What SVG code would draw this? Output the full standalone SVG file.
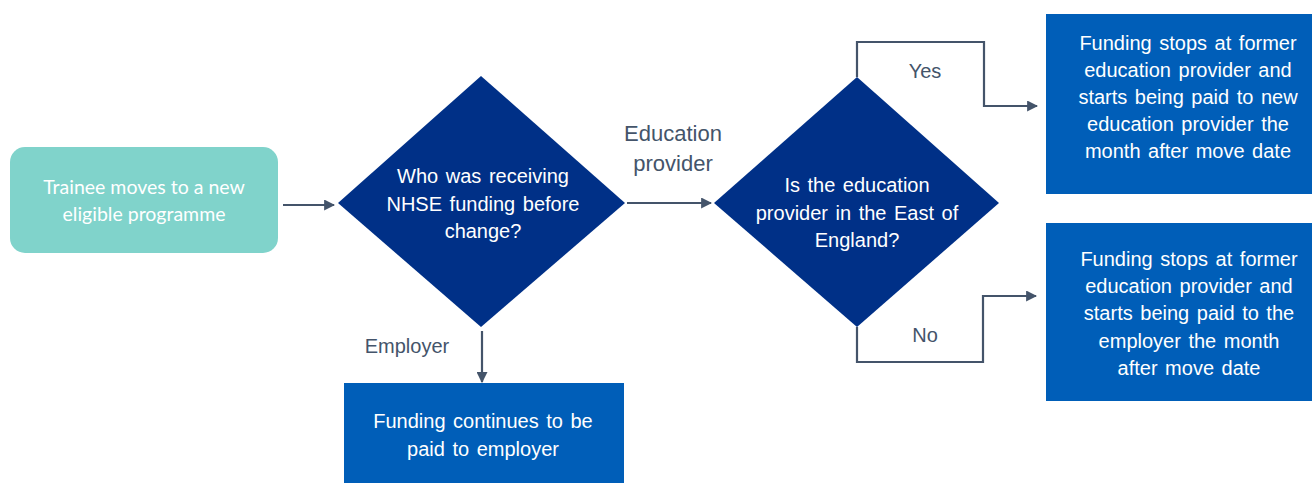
<svg xmlns="http://www.w3.org/2000/svg" width="1312" height="483" viewBox="0 0 1312 483">
<style>
.conn{fill:none;stroke:#44546a;stroke-width:2.2}
.lbl{font-family:"Liberation Sans",Arial,sans-serif;font-size:20px;fill:#44546a;text-anchor:middle}
.big{font-size:22px}
.wt{font-family:"Liberation Sans",Arial,sans-serif;font-size:20px;fill:#ffffff;text-anchor:middle;word-spacing:2px}
.dia{fill:#003087}
.box{fill:#005eb8}
.start{fill:#80d3cb}
.st{font-family:Lato,"Open Sans",sans-serif;font-size:19.5px;fill:#ffffff;text-anchor:middle}
</style>
<defs>
<marker id="ah" viewBox="0 0 10 10" refX="9" refY="5" markerWidth="5" markerHeight="5" orient="auto" markerUnits="strokeWidth">
<path d="M0,0 L10,5 L0,10 z" fill="#44546a"/>
</marker>
</defs>
<rect width="1312" height="483" fill="#ffffff"/>
<g id="connectors">
<line class="conn" x1="283" y1="205" x2="334" y2="205" marker-end="url(#ah)"/>
<line class="conn" x1="627" y1="203" x2="711" y2="203" marker-end="url(#ah)"/>
<line class="conn" x1="482" y1="331" x2="482" y2="382" marker-end="url(#ah)"/>
<polyline class="conn" points="857,77 857,42 984,42 984,106 1037,106" marker-end="url(#ah)"/>
<polyline class="conn" points="857,327 857,362 983,362 983,296 1036,296" marker-end="url(#ah)"/>
<text class="lbl big" x="673" y="141">Education</text>
<text class="lbl big" x="673" y="171">provider</text>
<text class="lbl" x="925" y="78">Yes</text>
<text class="lbl" x="925" y="342">No</text>
<text class="lbl" x="407" y="353">Employer</text>
</g>
<g id="start">
<rect class="start" x="10" y="147" width="268" height="106" rx="15" ry="15"/>
<text class="st" x="144" y="194">Trainee moves to a new</text>
<text class="st" x="144" y="221">eligible programme</text>
</g>
<g id="decision1">
<polygon class="dia" points="481,76 625,203 481,327 338,203"/>
<text class="wt" x="483" y="183">Who was receiving</text>
<text class="wt" x="483" y="211">NHSE funding before</text>
<text class="wt" x="483" y="238">change?</text>
</g>
<g id="decision2">
<polygon class="dia" points="857,77 999,203 857,327 714,203"/>
<text class="wt" x="857" y="192">Is the education</text>
<text class="wt" x="857" y="220">provider in the East of</text>
<text class="wt" x="857" y="247">England?</text>
</g>
<g id="yesbox">
<rect class="box" x="1046" y="14" width="266" height="180"/>
<text class="wt" x="1188" y="50">Funding stops at former</text>
<text class="wt" x="1188" y="77">education provider and</text>
<text class="wt" x="1188" y="104">starts being paid to new</text>
<text class="wt" x="1188" y="131">education provider the</text>
<text class="wt" x="1188" y="158">month after move date</text>
</g>
<g id="nobox">
<rect class="box" x="1046" y="223" width="266" height="178"/>
<text class="wt" x="1189" y="266">Funding stops at former</text>
<text class="wt" x="1189" y="293">education provider and</text>
<text class="wt" x="1189" y="320">starts being paid to the</text>
<text class="wt" x="1189" y="348">employer the month</text>
<text class="wt" x="1189" y="375">after move date</text>
</g>
<g id="employerbox">
<rect class="box" x="344" y="383" width="280" height="100"/>
<text class="wt" x="483" y="428">Funding continues to be</text>
<text class="wt" x="483" y="456">paid to employer</text>
</g>
</svg>
